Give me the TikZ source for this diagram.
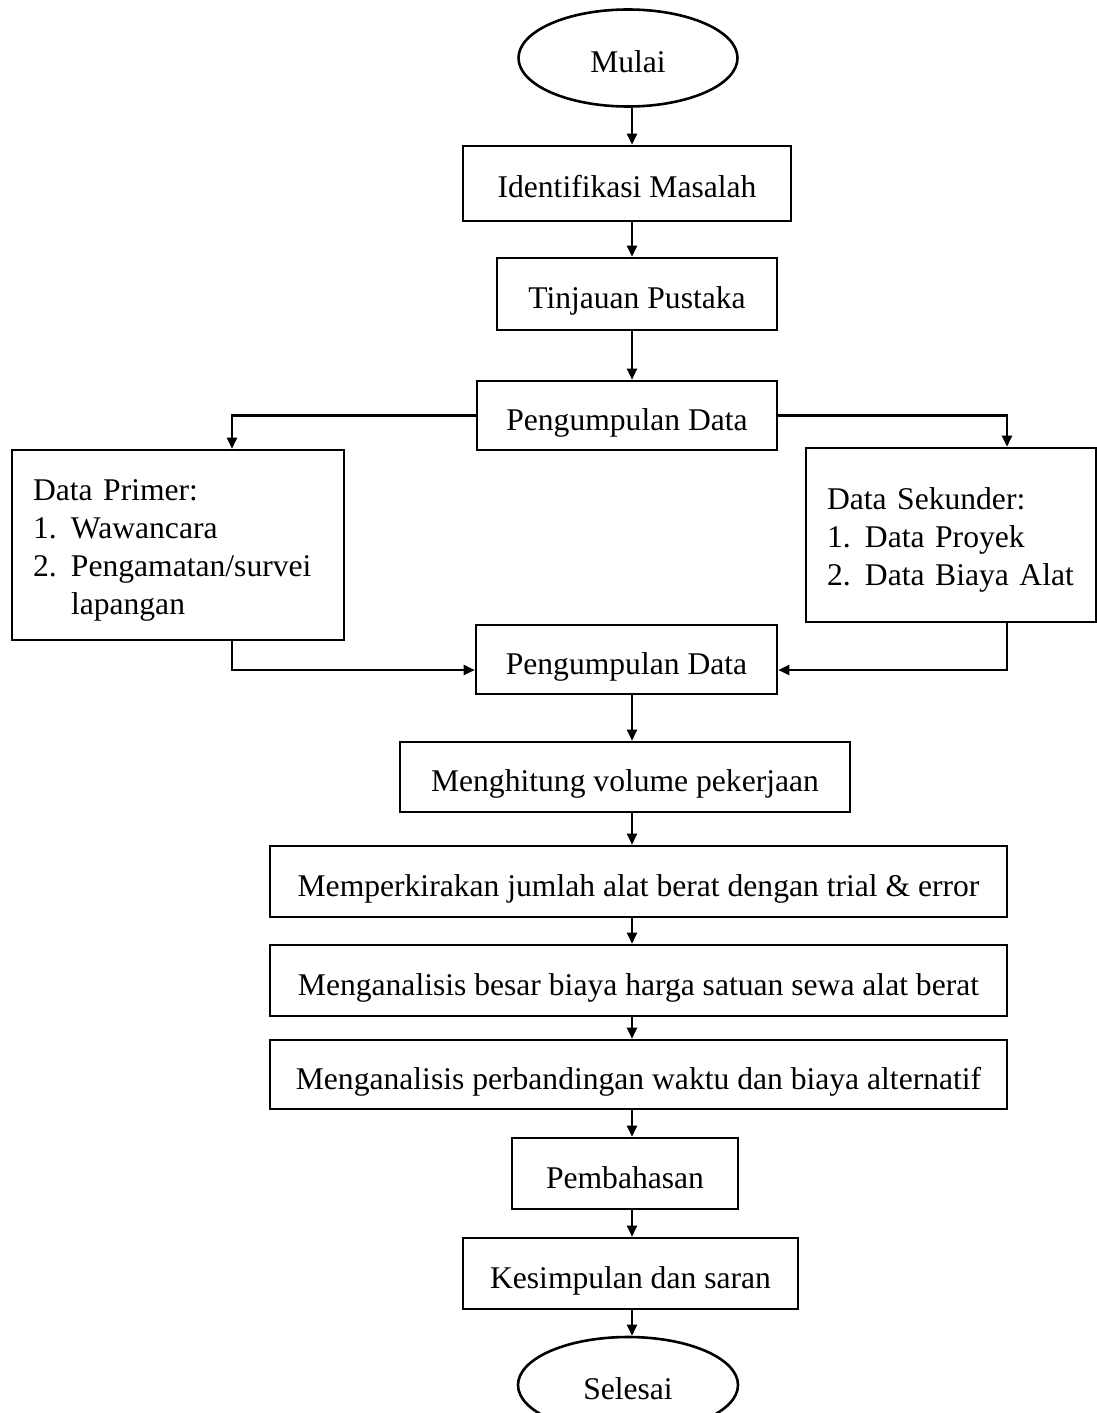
\documentclass[tikz,border=0pt]{standalone}
\usepackage{fontspec}
\setmainfont{Liberation Serif}
\usetikzlibrary{shapes.geometric,arrows.meta}
\newcommand\fsz{\fontsize{15.8pt}{19pt}\selectfont}
\begin{document}
\begin{tikzpicture}[x=0.5pt,y=-0.5pt,
  frame/.style={draw,line width=1.3pt,inner sep=0pt,font=\fsz},
  box/.style={frame,align=center,text height=14.5pt,text depth=0pt},
  listbox/.style={frame,align=left},
  oval/.style={box,ellipse},
  arr/.style={line width=1.1pt,-{Triangle[length=5.5pt,width=5pt]}}]
\useasboundingbox (0,0) rectangle (1097,1413);
\node[oval,minimum width=109.5pt,minimum height=48.5pt] (mulai) at (628,58) {Mulai};
\node[box,minimum width=164pt,minimum height=37.5pt] (ident) at (627,183.5) {Identifikasi Masalah};
\node[box,minimum width=140pt,minimum height=36pt] (tinjau) at (637,294) {Tinjauan Pustaka};
\node[box,minimum width=150pt,minimum height=34.5pt] (peng1) at (627,415.5) {Pengumpulan Data};
\node[listbox,minimum width=166pt,minimum height=95pt,text width=145pt] (primer) at (178,545) {\rule{0pt}{16pt}Data Primer:\\
\makebox[19pt][l]{1.}Wawancara\\
\makebox[19pt][l]{2.}Pengamatan/survei\\
\hspace*{19pt}lapangan};
\node[listbox,minimum width=145pt,minimum height=87pt,text width=124pt] (sekunder) at (951,535) {\rule{0pt}{16pt}Data Sekunder:\\
\makebox[19pt][l]{1.}Data Proyek\\
\makebox[19pt][l]{2.}Data Biaya Alat};
\node[box,minimum width=150.5pt,minimum height=34.5pt] (peng2) at (626.5,659.5) {Pengumpulan Data};
\node[box,minimum width=225pt,minimum height=35pt] (hitung) at (625,777) {Menghitung volume pekerjaan};
\node[box,minimum width=368.5pt,minimum height=35.5pt] (kira) at (638.5,881.5) {Memperkirakan jumlah alat berat dengan trial \& error};
\node[box,minimum width=368.5pt,minimum height=35.5pt] (besar) at (638.5,980.5) {Menganalisis besar biaya harga satuan sewa alat berat};
\node[box,minimum width=368.5pt,minimum height=34.5pt] (banding) at (638.5,1074.5) {Menganalisis perbandingan waktu dan biaya alternatif};
\node[box,minimum width=113pt,minimum height=35.5pt] (bahas) at (625,1173.5) {Pembahasan};
\node[box,minimum width=167.5pt,minimum height=35.5pt] (simpul) at (630.5,1273.5) {Kesimpulan dan saran};
\node[oval,minimum width=110pt,minimum height=48pt] (selesai) at (628,1385) {Selesai};
\coordinate (ax) at (632,0);
\coordinate (lx) at (232,0);
\coordinate (rx) at (1007,0);
\coordinate (ly) at (0,670);
\draw[arr] (ax|-mulai.south) -- (ax|-ident.north);
\draw[arr] (ax|-ident.south) -- (ax|-tinjau.north);
\draw[arr] (ax|-tinjau.south) -- (ax|-peng1.north);
\draw[arr] (peng1.west) -| (lx|-primer.north);
\draw[arr] (peng1.east) -| (rx|-sekunder.north);
\draw[arr] (lx|-primer.south) |- (peng2.west|-ly);
\draw[arr] (rx|-sekunder.south) |- (peng2.east|-ly);
\draw[arr] (ax|-peng2.south) -- (ax|-hitung.north);
\draw[arr] (ax|-hitung.south) -- (ax|-kira.north);
\draw[arr] (ax|-kira.south) -- (ax|-besar.north);
\draw[arr] (ax|-besar.south) -- (ax|-banding.north);
\draw[arr] (ax|-banding.south) -- (ax|-bahas.north);
\draw[arr] (ax|-bahas.south) -- (ax|-simpul.north);
\draw[arr] (ax|-simpul.south) -- (ax|-selesai.north);
\end{tikzpicture}
\end{document}
